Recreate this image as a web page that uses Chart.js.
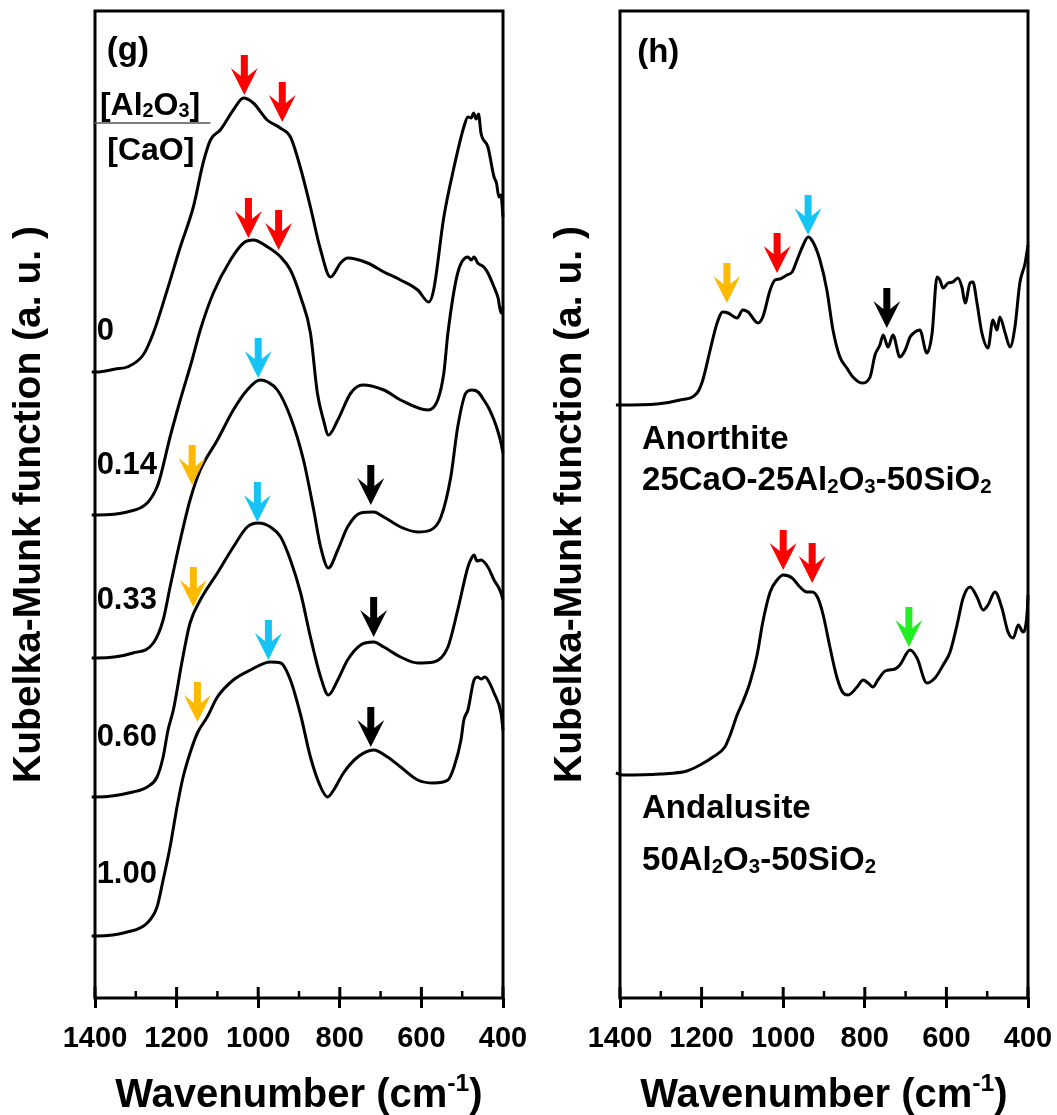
<!DOCTYPE html>
<html lang="en">
<head>
<meta charset="UTF-8">
<title>Kubelka-Munk spectra (g) and (h)</title>
<style>
    body { margin: 0; background: #fff; overflow: hidden; }
    .wrap { position: relative; width: 1057px; height: 1115px; overflow: hidden; }
    .panel { position: absolute; top: 0; }
    #left { left: 0; }
    #right { left: 530px; }
</style>
<script src="https://cdn.jsdelivr.net/npm/chart.js"></script>
</head>
<body>
<div class="wrap">
    <div class="panel" id="left"><canvas id="chartG" width="543" height="1115"></canvas></div>
    <div class="panel" id="right"><canvas id="chartH" width="538" height="1115"></canvas></div>
</div>
<script>
// ---- data: [wavenumber (cm-1), Kubelka-Munk (a.u., curves stacked with offsets)] ----
const g000 = [[1408,626],[1395,626],[1350,629],[1321,631],[1282,643],[1257,665],[1223,708],[1191,751],[1159,791],[1135,835],[1117,858],[1093,868],[1061,888],[1036,900],[1012,895],[978,878],[946,870],[921,861],[897,831],[872,791],[847,748],[823,721],[798,735],[781,740],[732,735],[692,726],[651,718],[609,708],[582,696],[570,708],[545,781],[520,831],[496,871],[486,881],[478,880],[472,885],[466,879],[460,884],[454,865],[437,851],[422,821],[416,815],[410,801],[405,803],[400,781]];
const g014 = [[1408,483],[1395,483],[1321,486],[1272,495],[1248,511],[1240,521],[1216,561],[1191,598],[1162,638],[1142,668],[1110,705],[1068,738],[1036,755],[1012,758],[977,751],[945,741],[921,728],[896,701],[872,665],[855,605],[840,578],[828,563],[805,578],[773,605],[744,613],[692,608],[651,598],[584,588],[560,598],[545,625],[535,665],[511,725],[486,741],[478,738],[471,741],[462,735],[447,731],[437,725],[422,711],[412,700],[405,685],[400,691]];
const g033 = [[1408,340],[1395,340],[1307,345],[1257,355],[1233,378],[1216,411],[1191,458],[1167,498],[1142,528],[1100,558],[1061,588],[1027,608],[995,618],[977,616],[953,608],[921,581],[889,538],[864,488],[847,451],[828,430],[805,448],[781,471],[749,485],[717,486],[692,481],[651,471],[609,466],[577,468],[552,481],[528,521],[511,571],[491,605],[476,608],[461,606],[447,598],[435,590],[422,578],[412,566],[405,555],[400,545]];
const g060 = [[1408,201],[1395,201],[1307,206],[1272,211],[1248,221],[1233,241],[1221,268],[1208,288],[1186,338],[1167,375],[1142,398],[1100,425],[1061,451],[1027,471],[1000,475],[970,471],[945,461],[921,438],[896,405],[872,361],[847,321],[828,303],[805,318],[781,338],[749,353],[717,356],[692,351],[651,341],[609,335],[570,336],[535,351],[511,388],[486,431],[477,440],[471,443],[464,437],[454,438],[437,431],[422,418],[410,410],[405,405],[400,398]];
const g100 = [[1408,62],[1395,62],[1321,66],[1272,75],[1248,91],[1233,118],[1216,151],[1199,191],[1184,221],[1167,245],[1149,265],[1125,281],[1100,301],[1061,318],[1019,328],[970,336],[945,335],[921,318],[896,283],[872,241],[847,211],[830,201],[815,208],[791,225],[756,241],[717,248],[683,241],[651,231],[609,218],[570,215],[535,218],[520,231],[503,258],[496,278],[486,288],[471,318],[462,321],[454,319],[444,321],[437,318],[422,305],[405,285],[400,268]];

const anorthite = [[1410,593],[1400,593],[1309,594],[1253,598],[1211,605],[1197,618],[1179,648],[1162,675],[1148,686],[1135,685],[1113,680],[1099,688],[1086,686],[1062,675],[1050,681],[1032,708],[1020,718],[1008,719],[991,723],[978,726],[966,738],[951,753],[939,761],[927,756],[910,738],[893,708],[878,668],[861,641],[844,630],[829,621],[807,615],[787,621],[775,643],[763,653],[755,663],[743,651],[731,663],[714,641],[701,648],[689,661],[677,666],[665,668],[648,645],[635,665],[623,721],[616,718],[608,710],[596,715],[584,716],[572,720],[562,711],[554,695],[542,715],[535,716],[525,695],[513,665],[498,650],[486,678],[476,668],[469,681],[456,665],[444,651],[432,671],[420,715],[407,735],[400,753]];
const andalusite = [[1410,225],[1393,223],[1302,224],[1236,227],[1204,233],[1172,241],[1143,251],[1130,263],[1113,283],[1099,296],[1081,316],[1064,343],[1050,376],[1032,406],[1015,418],[1000,423],[978,420],[959,411],[942,406],[929,406],[915,400],[902,383],[885,350],[868,320],[853,305],[841,303],[819,311],[804,318],[792,315],[780,311],[768,318],[750,327],[726,329],[714,333],[689,348],[672,340],[648,315],[628,320],[608,333],[591,346],[574,373],[559,400],[542,411],[525,401],[510,388],[498,393],[481,406],[464,390],[449,366],[436,360],[424,373],[412,366],[402,386],[400,403]];

// band markers: [wavenumber, tip height, band]
const gMarkers = [[1034,903,'red'],[941,876,'red'],[1024,760,'red'],[950,748,'red'],[1000,620,'blue'],[1162,513,'orange'],[724,493,'black'],[1002,476,'blue'],[1159,391,'orange'],[717,361,'black'],[975,338,'blue'],[1149,276,'orange'],[724,251,'black']];
const hMarkers = [[1138,695,'orange'],[1015,725,'red'],[939,763,'blue'],[746,670,'black'],[1000,428,'red'],[929,415,'red'],[692,351,'green']];

const xTicks = [1400, 1200, 1000, 800, 600, 400];

const FONT = '"Liberation Sans", Arial, sans-serif';
const MARKER_COLORS = { red: '#ff0000', blue: '#16c3f5', orange: '#ffb900', black: '#000000', green: '#22ee22' };

function toXY(arr) {
    return arr.map(p => ({ x: p[0], y: p[1] }));
}

// text with subscripts; parts = [[text, kind], ...] (1 = subscript, 2 = superscript), y = visual centre of caps
function drawRich(ctx, parts, x, y, size, align) {
    ctx.textBaseline = 'alphabetic';
    ctx.textAlign = 'left';
    let total = 0;
    parts.forEach(([t, sub]) => {
        ctx.font = `bold ${sub ? size * 0.62 : size}px ${FONT}`;
        total += ctx.measureText(t).width;
    });
    let cx = align === 'center' ? x - total / 2 : x;
    const base = y + size * 0.36;
    parts.forEach(([t, sub]) => {
        ctx.font = `bold ${sub ? size * 0.62 : size}px ${FONT}`;
        let dy = 0;
        if (sub === 1) dy = size * 0.08;
        if (sub === 2) dy = -size * 0.4;
        ctx.fillText(t, cx, base + dy);
        cx += ctx.measureText(t).width;
    });
}

function drawMarker(ctx, x, y, color) {
    ctx.fillStyle = color;
    ctx.beginPath();
    ctx.moveTo(x - 3.5, y - 40);
    ctx.lineTo(x + 3.5, y - 40);
    ctx.lineTo(x + 3.5, y - 19);
    ctx.lineTo(x + 13.5, y - 27);
    ctx.lineTo(x, y);
    ctx.lineTo(x - 13.5, y - 27);
    ctx.lineTo(x - 3.5, y - 19);
    ctx.closePath();
    ctx.fill();
}

const panelDecor = {
    id: 'panelDecor',
    afterDraw(chart, args, opts) {
        const { ctx, chartArea: a, scales: { x, y } } = chart;
        ctx.save();
        ctx.strokeStyle = '#000';
        // inner part of tick marks
        for (let v = 400; v <= 1400; v += 100) {
            const px = x.getPixelForValue(v);
            const major = v % 200 === 0;
            ctx.lineWidth = major ? 3 : 2.5;
            ctx.beginPath();
            ctx.moveTo(px, a.bottom);
            ctx.lineTo(px, a.bottom - (major ? 11 : 7));
            ctx.stroke();
        }
        // frame
        ctx.lineWidth = 3;
        ctx.strokeRect(a.left, a.top, a.right - a.left, a.bottom - a.top);

        opts.markers.forEach(([wn, km, band]) => {
            drawMarker(ctx, x.getPixelForValue(wn), y.getPixelForValue(km), MARKER_COLORS[band]);
        });

        ctx.fillStyle = '#000';
        opts.labels.forEach(l => {
            drawRich(ctx, l.parts, x.getPixelForValue(l.wn), y.getPixelForValue(l.km), l.size, 'left');
        });
        if (opts.rule) {
            ctx.lineWidth = 1.5;
            ctx.strokeStyle = '#555';
            const ry = y.getPixelForValue(opts.rule.km);
            ctx.beginPath();
            ctx.moveTo(x.getPixelForValue(opts.rule.from), ry);
            ctx.lineTo(x.getPixelForValue(opts.rule.to), ry);
            ctx.stroke();
        }
        // x axis title with superscript
        ctx.fillStyle = '#000';
        drawRich(ctx, [['Wavenumber (cm', 0], ['-1', 2], [')', 0]], (a.left + a.right) / 2, 1093, 40, 'center');
        ctx.restore();
    }
};

function makeChart(canvasId, series, markers, labels, rule, yWidth, rightPad, titlePad) {
    return new Chart(document.getElementById(canvasId), {
        type: 'line',
        data: {
            datasets: series.map(s => ({
                data: toXY(s),
                borderColor: '#000',
                borderWidth: 3,
                pointRadius: 0,
                cubicInterpolationMode: 'monotone',
                fill: false,
                clip: 8
            }))
        },
        options: {
            responsive: false,
            animation: false,
            events: [],
            layout: { padding: { top: 11, right: rightPad, left: 0, bottom: 0 } },
            plugins: {
                legend: { display: false },
                tooltip: { enabled: false },
                panelDecor: { markers: markers, labels: labels, rule: rule }
            },
            scales: {
                x: {
                    type: 'linear',
                    min: 400,
                    max: 1400,
                    reverse: true,
                    afterFit(scale) { scale.height = 117; },
                    afterBuildTicks(scale) {
                        const t = [];
                        for (let v = 1400; v >= 400; v -= 100) t.push({ value: v });
                        scale.ticks = t;
                    },
                    ticks: {
                        autoSkip: false,
                        maxRotation: 0,
                        padding: 14,
                        color: '#000',
                        font: { family: FONT, size: 29, weight: 'bold' },
                        callback: v => (xTicks.includes(v) ? String(v) : '')
                    },
                    grid: {
                        drawOnChartArea: false,
                        tickLength: 10,
                        tickWidth: 3,
                        tickColor: ctx => (ctx.tick && ctx.tick.value % 200 === 0 ? '#000' : 'rgba(0,0,0,0)')
                    },
                    border: { display: false }
                },
                y: {
                    min: 0,
                    max: 987,
                    afterFit(scale) { scale.width = yWidth; },
                    ticks: { display: false },
                    grid: { display: false },
                    border: { display: false },
                    title: {
                        display: true,
                        text: 'Kubelka-Munk function (a. u. )',
                        color: '#000',
                        font: { family: FONT, size: 39, weight: 'bold', lineHeight: 1.2 },
                        padding: { top: titlePad, bottom: 0 }
                    }
                }
            }
        },
        plugins: [panelDecor]
    });
}

const gLabels = [
    { parts: [['(g)', 0]], wn: 1371, km: 950, size: 33 },
    { parts: [['[Al', 0], ['2', 1], ['O', 0], ['3', 1], [']', 0]], wn: 1388, km: 895, size: 32 },
    { parts: [['[CaO]', 0]], wn: 1370, km: 850, size: 32 },
    { parts: [['0', 0]], wn: 1396, km: 669, size: 31 },
    { parts: [['0.14', 0]], wn: 1396, km: 535, size: 31 },
    { parts: [['0.33', 0]], wn: 1396, km: 400, size: 31 },
    { parts: [['0.60', 0]], wn: 1396, km: 263, size: 31 },
    { parts: [['1.00', 0]], wn: 1396, km: 126, size: 31 }
];
const hLabels = [
    { parts: [['(h)', 0]], wn: 1358, km: 948, size: 33 },
    { parts: [['Anorthite', 0]], wn: 1346, km: 561, size: 33 },
    { parts: [['25CaO-25Al', 0], ['2', 1], ['O', 0], ['3', 1], ['-50SiO', 0], ['2', 1]], wn: 1346, km: 520, size: 33 },
    { parts: [['Andalusite', 0]], wn: 1346, km: 192, size: 33 },
    { parts: [['50Al', 0], ['2', 1], ['O', 0], ['3', 1], ['-50SiO', 0], ['2', 1]], wn: 1346, km: 140, size: 33 }
];

makeChart('chartG', [g000, g014, g033, g060, g100], gMarkers, gLabels,
    { km: 875, from: 1405, to: 1117 }, 95, 40, 6);
makeChart('chartH', [anorthite, andalusite], hMarkers, hLabels, null, 90, 40, 17);
</script>
</body>
</html>
